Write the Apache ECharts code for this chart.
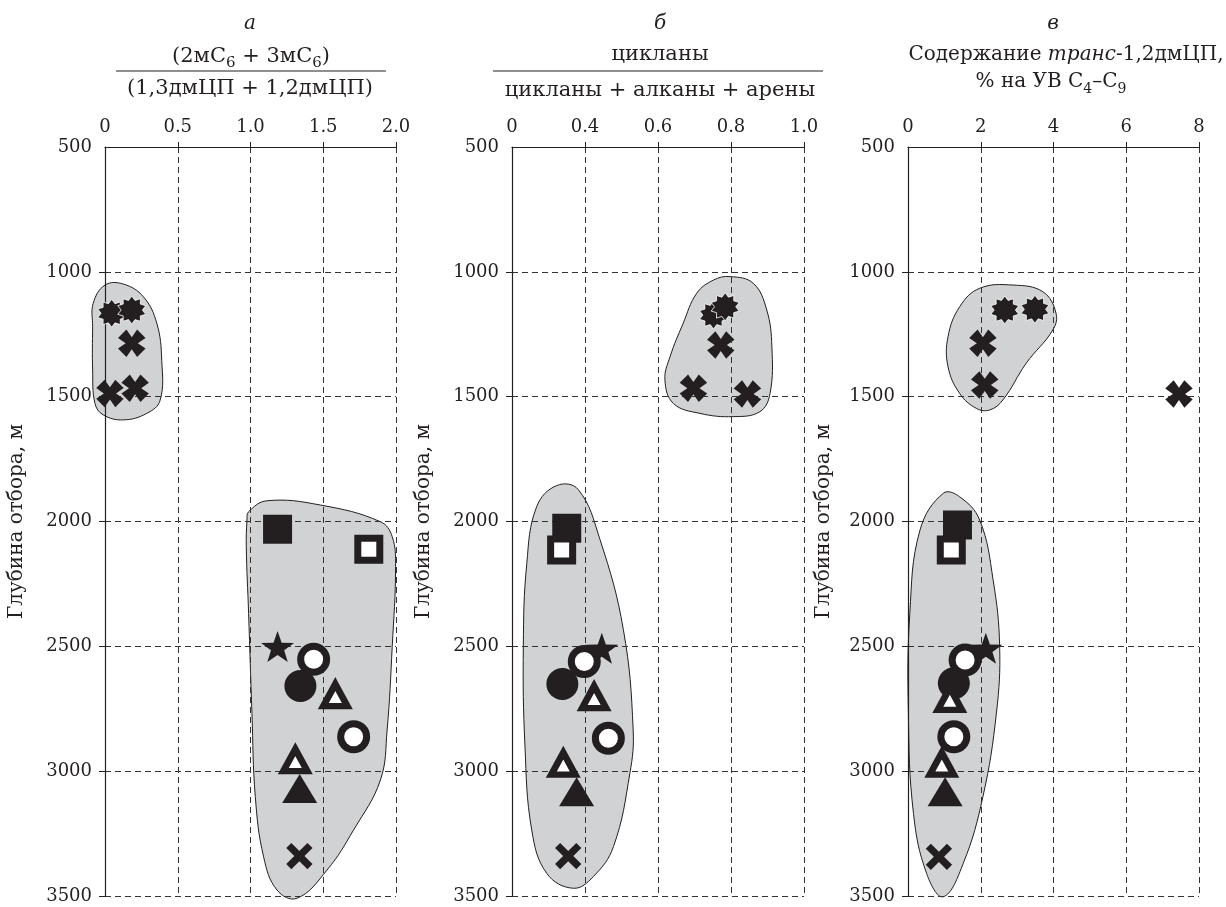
<!DOCTYPE html>
<html>
<head>
<meta charset="utf-8">
<script src="https://cdn.jsdelivr.net/npm/echarts@6/dist/echarts.min.js"></script>
<style>
  html, body { margin: 0; background: #fff; }
  #chart { width: 1226px; height: 907px; }
</style>
</head>
<body>
<div id="chart"></div>
<script>
// marker of each sample, same order in all three panels
const sampleMarkers = ['burst', 'burst', 'cross', 'cross', 'cross', 'squareFilled', 'squareOpen', 'circleFilled',
  'star', 'circleOpen', 'triangleOpen', 'circleOpen', 'triangleFilled', 'triangleOpen', 'x']

// panel а: (2мC6 + 3мC6) / (1,3дмЦП + 1,2дмЦП)
const ratioA = [0.046, 0.184, 0.184, 0.034, 0.207, 1.186, 1.813, 1.343, 1.186, 1.434, 1.583, 1.709, 1.338, 1.308, 1.336]
const depthA = [1166, 1153, 1286, 1487, 1466, 2031, 2111, 2659, 2501, 2552, 2687, 2862, 3069, 2948, 3340]

// panel б: цикланы / (цикланы + алканы + арены)
const ratioB = [0.752, 0.784, 0.772, 0.697, 0.845, 0.300, 0.272, 0.276, 0.446, 0.396, 0.425, 0.464, 0.354, 0.281, 0.308]
const depthB = [1173, 1140, 1293, 1466, 1489, 2027, 2114, 2651, 2508, 2561, 2695, 2868, 3082, 2962, 3340]

// panel в: транс-1,2дмЦП, % на УВ C4-C9
const transC = [2.66, 3.49, 2.06, 2.11, 7.45, 1.36, 1.19, 1.26, 2.14, 1.57, 1.15, 1.26, 1.02, 0.93, 0.85]
const depthC = [1153, 1150, 1286, 1453, 1489, 2014, 2114, 2648, 2508, 2555, 2702, 2862, 3082, 2962, 3343]

// hand-drawn grey zones [x, depth]
const zoneA1 = [[-0.081, 1126], [0, 1053], [0.126, 1049], [0.264, 1100], [0.356, 1206], [0.39, 1354], [0.379, 1514],
  [0.287, 1567], [0.126, 1593], [-0.012, 1573], [-0.069, 1527], [-0.085, 1393], [-0.085, 1220]]
const zoneA2 = [[0.987, 1961], [1.113, 1917], [1.48, 1934], [1.893, 2001], [1.974, 2061], [1.997, 2181], [1.974, 2501],
  [1.939, 2835], [1.893, 3035], [1.709, 3235], [1.526, 3396], [1.32, 3509], [1.182, 3476], [1.09, 3343], [1.033, 3102],
  [1.01, 2768], [0.987, 2368], [0.971, 2101], [0.976, 1994]]
const zoneB1 = [[0.797, 1019], [0.861, 1046], [0.898, 1153], [0.912, 1300], [0.907, 1487], [0.879, 1560], [0.806, 1580],
  [0.715, 1567], [0.642, 1527], [0.619, 1433], [0.633, 1340], [0.669, 1206], [0.706, 1086], [0.752, 1033]]
const zoneB2 = [[0.245, 1856], [0.363, 1872], [0.441, 2072], [0.505, 2432], [0.532, 2835], [0.523, 3008], [0.478, 3302],
  [0.423, 3422], [0.336, 3469], [0.19, 3409], [0.108, 3235], [0.071, 2899], [0.062, 2501], [0.081, 2168], [0.135, 1941]]
const zoneC1 = [[1.97, 1066], [2.89, 1053], [3.71, 1080], [4.07, 1166], [3.98, 1233], [3.25, 1366], [2.61, 1513],
  [2.25, 1553], [1.88, 1547], [1.42, 1487], [1.10, 1380], [1.10, 1260], [1.42, 1140]]
const zoneC2 = [[0.97, 1887], [1.42, 1901], [1.97, 1994], [2.34, 2234], [2.52, 2501], [2.43, 2768], [2.06, 3102],
  [1.52, 3369], [0.97, 3503], [0.51, 3409], [0.15, 3169], [0.01, 2768], [0.05, 2368], [0.33, 2034]]

// axis ticks
const depthTicks = [500, 1000, 1500, 2000, 2500, 3000, 3500]
const ticksA = [0, 0.5, 1.0, 1.5, 2.0]
const ticksB = ['0', '0.4', '0.6', '0.8', '1.0'] // drawn evenly spaced, broken scale
const ticksC = [0, 2, 4, 6, 8]

const INK = '#231f20'
const FONT = 'DejaVu Serif'

// panel б scale is broken at 0.4: 0..0.4 takes one step, then 0.2 per step
const scaleB = (v) => (v <= 0.4 ? v / 0.4 : 1 + (v - 0.4) / 0.2)
const same = (v) => v

const starPath = (n, r1, r2) => {
  let d = ''
  for (let i = 0; i < n * 2; i++) {
    const r = i % 2 ? r2 : r1
    const a = -Math.PI / 2 + (i * Math.PI) / n
    d += (i ? 'L' : 'M') + (r * Math.cos(a)).toFixed(3) + ',' + (r * Math.sin(a)).toFixed(3)
  }
  return 'path://' + d + 'Z'
}

const markerStyles = {
  burst: { symbol: starPath(10, 10, 7.2), symbolSize: 28, itemStyle: { color: INK, borderColor: '#fff', borderWidth: 0.8 } },
  cross: {
    symbol: 'path://M-3.2,-3.2L-4.4,-10L4.4,-10L3.2,-3.2L10,-4.4L10,4.4L3.2,3.2L4.4,10L-4.4,10L-3.2,3.2L-10,4.4L-10,-4.4Z',
    symbolSize: 27, symbolRotate: 45, itemStyle: { color: INK }
  },
  squareFilled: { symbol: 'rect', symbolSize: 29, itemStyle: { color: INK } },
  squareOpen: { symbol: 'rect', symbolSize: 22, itemStyle: { color: '#fff', borderColor: INK, borderWidth: 7 } },
  circleFilled: { symbol: 'circle', symbolSize: 32, itemStyle: { color: INK } },
  star: { symbol: starPath(5, 10, 4), symbolSize: [33, 31], itemStyle: { color: INK } },
  circleOpen: { symbol: 'circle', symbolSize: 26, itemStyle: { color: '#fff', borderColor: INK, borderWidth: 7 } },
  triangleOpen: {
    symbol: 'triangle', symbolSize: [24, 22], symbolOffset: [0, 2],
    itemStyle: { color: '#fff', borderColor: INK, borderWidth: 6.5, borderJoin: 'miter', borderMiterLimit: 10 }
  },
  triangleFilled: { symbol: 'triangle', symbolSize: [35, 29], itemStyle: { color: INK } },
  x: {
    symbol: 'path://M-2.4,-10L2.4,-10L2.4,-2.4L10,-2.4L10,2.4L2.4,2.4L2.4,10L-2.4,10L-2.4,2.4L-10,2.4L-10,-2.4L-2.4,-2.4Z',
    symbolSize: 30, symbolRotate: 45, itemStyle: { color: INK }
  }
}

const grids = [
  { left: 105, top: 147, width: 291, height: 749 },
  { left: 512, top: 147, width: 292, height: 749 },
  { left: 908, top: 147, width: 291, height: 749 }
]

const gridLine = { show: true, lineStyle: { color: '#333', width: 1, type: [6, 4] } }
const labelStyle = { color: INK, fontFamily: FONT, fontSize: 18 }

const makeXAxis = (i, max, interval, formatter, tickValues) => ({
  gridIndex: i,
  type: 'value',
  position: 'top',
  min: 0,
  max,
  interval,
  axisLine: { show: true, onZero: false, lineStyle: { color: INK, width: 1.2 } },
  axisTick: { show: true, inside: false, length: 5, customValues: tickValues, lineStyle: { color: INK } },
  axisLabel: Object.assign({ margin: 11, formatter }, labelStyle),
  splitLine: gridLine
})

const makeYAxis = (i, gap) => ({
  gridIndex: i,
  type: 'value',
  inverse: true,
  min: depthTicks[0],
  max: depthTicks[depthTicks.length - 1],
  interval: 500,
  name: 'Глубина отбора, м',
  nameLocation: 'middle',
  nameGap: gap,
  nameTextStyle: Object.assign({}, labelStyle, { fontSize: 20 }),
  axisLine: { show: true, onZero: false, lineStyle: { color: INK, width: 1.2 } },
  axisTick: { show: true, length: 6, customValues: depthTicks.slice(1), lineStyle: { color: INK } },
  axisLabel: Object.assign({ margin: 13, formatter: (v) => String(v) }, labelStyle),
  splitLine: gridLine
})

const zoneSeries = (i, outline, mapX) => ({
  type: 'custom',
  xAxisIndex: i,
  yAxisIndex: i,
  z: -1,
  silent: true,
  clip: false,
  data: [[mapX(outline[0][0]), outline[0][1]]],
  renderItem: (params, api) => ({
    type: 'polygon',
    shape: { points: outline.map((p) => api.coord([mapX(p[0]), p[1]])), smooth: 0.4 },
    style: { fill: '#d1d2d4', stroke: INK, lineWidth: 1 }
  })
})

const markerSeries = (i, xs, depths, mapX) => ({
  type: 'scatter',
  xAxisIndex: i,
  yAxisIndex: i,
  z: 3,
  clip: false,
  silent: true,
  itemStyle: { opacity: 1 },
  data: sampleMarkers.map((m, k) => Object.assign({ value: [mapX(xs[k]), depths[k]] }, markerStyles[m]))
})

const txt = (x, y, text, extra) => ({
  type: 'text',
  x,
  y,
  style: Object.assign({
    text,
    fill: INK,
    font: '21px "' + FONT + '"',
    align: 'center',
    verticalAlign: 'middle'
  }, extra || {})
})

const richStyles = (size) => ({
  n: { fontFamily: FONT, fontSize: size, lineHeight: 26, verticalAlign: 'top', color: INK },
  i: { fontFamily: FONT, fontSize: size, fontStyle: 'italic', lineHeight: 26, verticalAlign: 'top', color: INK },
  s: { fontFamily: FONT, fontSize: size - 6, lineHeight: 14, padding: [10, 0, 0, 0], verticalAlign: 'top', color: INK }
})

const chart = echarts.init(document.getElementById('chart'))

chart.setOption({
  animation: false,
  backgroundColor: '#fff',
  grid: grids,
  xAxis: [
    makeXAxis(0, 2, 0.5, (v) => (v === 0 ? '0' : v.toFixed(1)), ticksA.slice(1)),
    makeXAxis(1, 4, 1, (v) => ticksB[v], [1, 2, 3, 4]),
    makeXAxis(2, 8, 2, (v) => String(v), ticksC.slice(1))
  ],
  yAxis: [makeYAxis(0, 78), makeYAxis(1, 78), makeYAxis(2, 74)],
  graphic: [
    txt(250, 24, 'а', { font: 'italic 20px "' + FONT + '"' }),
    txt(251, 46, '{n|(2мC}{s|6}{n| + 3мC}{s|6}{n|)}', { rich: richStyles(21), verticalAlign: 'top' }),
    { type: 'line', shape: { x1: 116, y1: 71, x2: 386, y2: 71 }, style: { stroke: INK, lineWidth: 1.2 } },
    txt(250, 89, '(1,3дмЦП + 1,2дмЦП)'),

    txt(660, 24, 'б', { font: 'italic 20px "' + FONT + '"' }),
    txt(660, 55, 'цикланы'),
    { type: 'line', shape: { x1: 493, y1: 71, x2: 823, y2: 71 }, style: { stroke: INK, lineWidth: 1.2 } },
    txt(660, 91, 'цикланы + алканы + арены'),

    txt(1053, 24, 'в', { font: 'italic 20px "' + FONT + '"' }),
    txt(1066, 45, '{n|Содержание }{i|транс}{n|-1,2дмЦП,}', { rich: richStyles(20), verticalAlign: 'top' }),
    txt(1051, 72, '{n|% на УВ C}{s|4}{n|–C}{s|9}', { rich: richStyles(20), verticalAlign: 'top' })
  ],
  series: [
    zoneSeries(0, zoneA1, same),
    zoneSeries(0, zoneA2, same),
    zoneSeries(1, zoneB1, scaleB),
    zoneSeries(1, zoneB2, scaleB),
    zoneSeries(2, zoneC1, same),
    zoneSeries(2, zoneC2, same),
    markerSeries(0, ratioA, depthA, same),
    markerSeries(1, ratioB, depthB, scaleB),
    markerSeries(2, transC, depthC, same)
  ]
})
</script>
</body>
</html>
